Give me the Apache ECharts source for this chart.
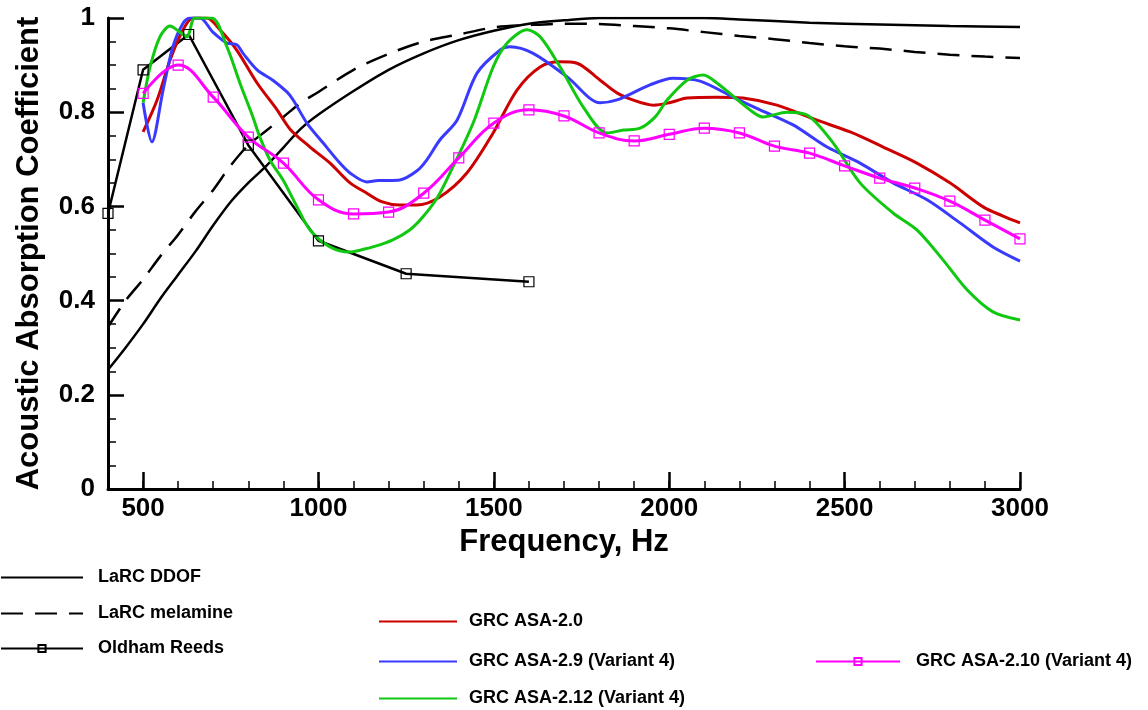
<!DOCTYPE html>
<html>
<head>
<meta charset="utf-8">
<script src="https://cdn.jsdelivr.net/npm/echarts@6/dist/echarts.min.js"></script>
<style>
html,body{margin:0;padding:0;background:#fff;}
#chart{width:1148px;height:710px;}
</style>
</head>
<body>
<div id="chart"></div>
<script>
// ---- data ----
const xTickLabels = [500, 1000, 1500, 2000, 2500, 3000];

const ddofHz  = [400, 450, 500, 550, 600, 650, 700, 750, 800, 850, 900, 950, 1000, 1100, 1200, 1300, 1400, 1500, 1600, 1700, 1800, 1900, 2000, 2100, 2200, 2400, 2600, 2800, 3000];
const ddofAbs = [0.253, 0.30, 0.35, 0.405, 0.455, 0.505, 0.56, 0.61, 0.65, 0.685, 0.725, 0.765, 0.795, 0.845, 0.89, 0.925, 0.953, 0.973, 0.988, 0.995, 1.0, 1.0, 1.0, 1.0, 0.997, 0.99, 0.986, 0.983, 0.981];

const melHz  = [400, 450, 500, 550, 600, 650, 700, 750, 800, 850, 900, 950, 1000, 1100, 1200, 1300, 1400, 1500, 1600, 1700, 1800, 1900, 2000, 2100, 2200, 2300, 2400, 2500, 2600, 2700, 2800, 2900, 3000];
const melAbs = [0.344, 0.40, 0.445, 0.495, 0.54, 0.59, 0.635, 0.687, 0.73, 0.76, 0.79, 0.82, 0.843, 0.89, 0.924, 0.95, 0.965, 0.98, 0.985, 0.988, 0.987, 0.983, 0.978, 0.97, 0.962, 0.955, 0.947, 0.94, 0.935, 0.928, 0.922, 0.918, 0.915];

const reedsHz  = [400, 500, 630, 800, 1000, 1250, 1600];
const reedsAbs = [0.585, 0.89, 0.965, 0.73, 0.527, 0.457, 0.44];

const asa20Hz  = [500, 540, 577, 614, 642, 682, 719, 767, 825, 882, 919, 976, 1033, 1090, 1138, 1180, 1230, 1280, 1346, 1423, 1498, 1566, 1632, 1689, 1737, 1803, 1851, 1900, 1955, 2000, 2051, 2136, 2210, 2307, 2421, 2516, 2610, 2706, 2800, 2895, 2950, 3000];
const asa20Abs = [0.758, 0.826, 0.911, 0.975, 1.0, 1.0, 0.975, 0.932, 0.862, 0.805, 0.764, 0.726, 0.692, 0.65, 0.628, 0.61, 0.603, 0.603, 0.62, 0.671, 0.756, 0.847, 0.896, 0.907, 0.904, 0.868, 0.841, 0.825, 0.815, 0.82, 0.83, 0.832, 0.83, 0.815, 0.783, 0.758, 0.726, 0.692, 0.65, 0.599, 0.58, 0.565];

const asa29Hz  = [500, 525, 557, 585, 614, 634, 662, 699, 739, 767, 785, 825, 870, 910, 928, 967, 1013, 1061, 1090, 1138, 1170, 1200, 1232, 1280, 1309, 1346, 1395, 1452, 1518, 1546, 1612, 1709, 1803, 1851, 1945, 2011, 2088, 2182, 2259, 2353, 2450, 2544, 2638, 2735, 2829, 2923, 3000];
const asa29Abs = [0.82, 0.737, 0.847, 0.939, 0.989, 1.0, 1.0, 0.97, 0.947, 0.943, 0.925, 0.89, 0.868, 0.843, 0.826, 0.777, 0.735, 0.692, 0.671, 0.652, 0.655, 0.655, 0.656, 0.675, 0.699, 0.741, 0.783, 0.883, 0.932, 0.939, 0.925, 0.875, 0.82, 0.826, 0.858, 0.872, 0.866, 0.832, 0.805, 0.773, 0.726, 0.692, 0.65, 0.614, 0.565, 0.514, 0.484];

const asa212Hz  = [500, 520, 548, 577, 605, 625, 648, 696, 739, 776, 813, 833, 862, 899, 939, 976, 1033, 1090, 1118, 1160, 1212, 1260, 1298, 1340, 1375, 1441, 1498, 1538, 1595, 1632, 1689, 1755, 1822, 1870, 1917, 1960, 1994, 2051, 2097, 2136, 2230, 2267, 2336, 2393, 2467, 2544, 2638, 2706, 2781, 2849, 2923, 3000];
const asa212Abs = [0.82, 0.896, 0.96, 0.983, 0.97, 0.96, 1.0, 1.0, 0.939, 0.862, 0.79, 0.747, 0.698, 0.656, 0.599, 0.55, 0.514, 0.503, 0.507, 0.515, 0.529, 0.55, 0.578, 0.62, 0.671, 0.777, 0.896, 0.947, 0.975, 0.96, 0.896, 0.811, 0.756, 0.762, 0.766, 0.79, 0.826, 0.868, 0.879, 0.862, 0.805, 0.79, 0.8, 0.794, 0.735, 0.65, 0.586, 0.55, 0.486, 0.423, 0.376, 0.359];

const asa210Hz  = [500, 600, 700, 800, 900, 1000, 1100, 1200, 1300, 1400, 1500, 1600, 1700, 1800, 1900, 2000, 2100, 2200, 2300, 2400, 2500, 2600, 2700, 2800, 2900, 3000];
const asa210Abs = [0.84, 0.9, 0.832, 0.747, 0.692, 0.614, 0.584, 0.588, 0.628, 0.703, 0.777, 0.805, 0.792, 0.756, 0.739, 0.753, 0.766, 0.756, 0.728, 0.713, 0.686, 0.66, 0.639, 0.611, 0.571, 0.531];

const zip = (xs, ys) => xs.map((x, i) => [x, ys[i]]);

// ---- chart ----
const FONT = '"Liberation Sans", Arial, Helvetica, sans-serif';
const chart = echarts.init(document.getElementById('chart'), null, {renderer: 'canvas'});

const ICON_H = 9;
function legendAt(name, left, centerY, iconW, textPad, hideSymbol) {
  return {
    orient: 'vertical', left: left, top: centerY - ICON_H / 2 - 3, padding: 0,
    itemWidth: iconW, itemHeight: ICON_H, selectedMode: false,
    textStyle: {fontFamily: FONT, fontWeight: 'bold', fontSize: 18, color: '#000', padding: [0, 0, 0, textPad]},
    data: [hideSymbol ? {name: name, itemStyle: {opacity: 0}} : {name: name}]
  };
}

const option = {
  animation: false,
  backgroundColor: '#fff',
  grid: {left: 108, right: 128, top: 18, bottom: 221, containLabel: false, outerBoundsMode: 'none'},
  xAxis: [{
    type: 'value', min: 400, max: 3000, interval: 100,
    name: 'Frequency, Hz', nameLocation: 'middle', nameGap: 31,
    nameTextStyle: {fontFamily: FONT, fontWeight: 'bold', fontSize: 31, color: '#000'},
    axisLine: {show: true, lineStyle: {color: '#000', width: 3}},
    axisTick: {show: true, inside: true, length: 8, lineStyle: {color: '#000', width: 1.5}},
    axisLabel: {
      fontFamily: FONT, fontWeight: 'bold', fontSize: 26, color: '#000', margin: 7,
      formatter: v => (xTickLabels.indexOf(v) >= 0 ? String(v) : '')
    },
    splitLine: {show: false}
  }, {
    type: 'value', min: 400, max: 3000, position: 'bottom', offset: 0,
    axisLine: {show: false},
    axisTick: {show: true, inside: true, length: 17, customValues: xTickLabels, lineStyle: {color: '#000', width: 2.5}},
    axisLabel: {show: false},
    splitLine: {show: false}
  }],
  yAxis: {
    type: 'value', min: 0, max: 1, interval: 0.2,
    name: 'Acoustic Absorption Coefficient', nameLocation: 'middle', nameGap: 63, nameRotate: 90,
    nameTextStyle: {fontFamily: FONT, fontWeight: 'bold', fontSize: 31, color: '#000'},
    axisLine: {show: true, lineStyle: {color: '#000', width: 3}},
    axisTick: {show: true, inside: true, length: 16, lineStyle: {color: '#000', width: 2.5}},
    minorTick: {show: true, splitNumber: 4, length: 8, lineStyle: {color: '#000', width: 1.5}},
    axisLabel: {fontFamily: FONT, fontWeight: 'bold', fontSize: 26, color: '#000', margin: 13},
    splitLine: {show: false}
  },
  legend: [
    legendAt('LaRC DDOF', 0, 576, 82, 10, true),
    legendAt('LaRC melamine', 0, 612, 82, 10, true),
    legendAt('Oldham Reeds', 0, 647, 82, 10, false),
    legendAt('GRC ASA-2.0', 378, 620, 78, 7, true),
    legendAt('GRC ASA-2.9 (Variant 4)', 378, 660, 78, 7, true),
    legendAt('GRC ASA-2.12 (Variant 4)', 378, 697, 78, 7, true),
    legendAt('GRC ASA-2.10 (Variant 4)', 815, 660, 84, 11, false)
  ],
  series: [
    {name: 'LaRC DDOF', type: 'line', data: zip(ddofHz, ddofAbs), smooth: 0.3, showSymbol: false, symbol: 'none',
     lineStyle: {color: '#000', width: 2.5}, itemStyle: {color: '#000'}},
    {name: 'LaRC melamine', type: 'line', data: zip(melHz, melAbs), smooth: 0.3, showSymbol: false, symbol: 'none',
     lineStyle: {color: '#000', width: 2.5, type: [22, 12]}, itemStyle: {color: '#000'}},
    {name: 'Oldham Reeds', type: 'line', data: zip(reedsHz, reedsAbs), smooth: false,
     symbol: 'rect', symbolSize: 10,
     lineStyle: {color: '#000', width: 2.5}, itemStyle: {color: 'rgba(255,255,255,0)', borderColor: '#000', borderWidth: 1.2}},
    {name: 'GRC ASA-2.0', type: 'line', data: zip(asa20Hz, asa20Abs), smooth: 0.3, showSymbol: false, symbol: 'none',
     lineStyle: {color: '#cc0000', width: 3}, itemStyle: {color: '#cc0000'}},
    {name: 'GRC ASA-2.9 (Variant 4)', type: 'line', data: zip(asa29Hz, asa29Abs), smooth: 0.3, showSymbol: false, symbol: 'none',
     lineStyle: {color: '#3a3aff', width: 3}, itemStyle: {color: '#3a3aff'}},
    {name: 'GRC ASA-2.12 (Variant 4)', type: 'line', data: zip(asa212Hz, asa212Abs), smooth: 0.3, showSymbol: false, symbol: 'none',
     lineStyle: {color: '#10c810', width: 3}, itemStyle: {color: '#10c810'}},
    {name: 'GRC ASA-2.10 (Variant 4)', type: 'line', data: zip(asa210Hz, asa210Abs), smooth: 0.4,
     symbol: 'rect', symbolSize: 10,
     lineStyle: {color: '#ff00ff', width: 3}, itemStyle: {color: 'rgba(255,255,255,0)', borderColor: '#ff00ff', borderWidth: 1.2}}
  ]
};
chart.setOption(option);
</script>
</body>
</html>
